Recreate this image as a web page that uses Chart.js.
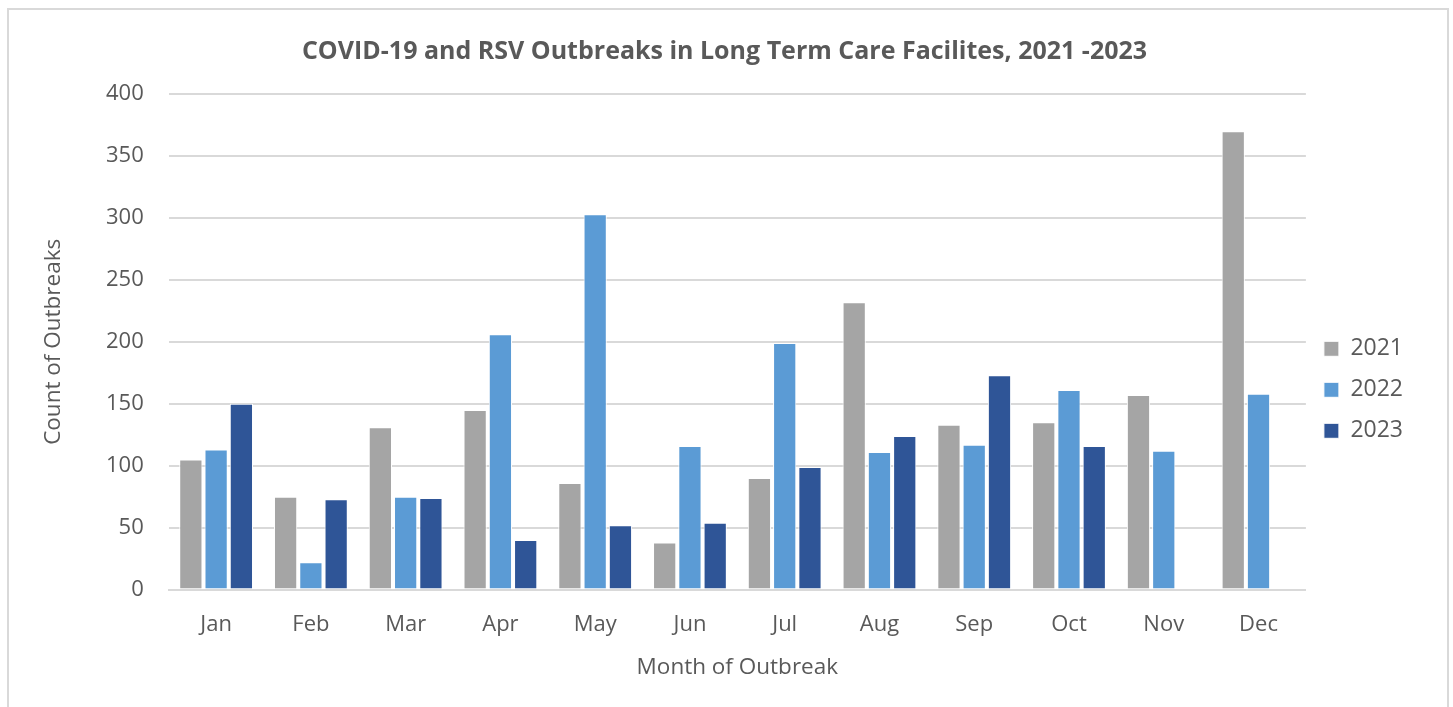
<!DOCTYPE html>
<html>
<head>
    <title>COVID-19 and RSV Outbreaks</title>
    <style>
        body{
            margin:0;
            background:white;
        }
        .frame{
            position:absolute;
            left:7px;
            top:8px;
            width:1438px;
            height:720px;
            border:2px solid #d9d9d9;
            border-bottom:none;
        }
        .wrap{
            position:absolute;
            left:0;
            top:0;
            width:1453px;
            height:707px;
        }
    </style>
</head>
<body>
<div class="frame"></div>
<div class="wrap"><canvas id="outbreaks"></canvas></div>

<script src="https://cdn.jsdelivr.net/npm/chart.js@4.4.0/dist/chart.umd.min.js"></script>
<script>
    const months = ["Jan", "Feb", "Mar", "Apr", "May", "Jun", "Jul", "Aug", "Sep", "Oct", "Nov", "Dec"];
    const y2021 = [105, 75, 131, 145, 86, 38, 90, 232, 133, 135, 157, 370];
    const y2022 = [113, 22, 75, 206, 303, 116, 199, 111, 117, 161, 112, 158];
    const y2023 = [150, 73, 74, 40, 52, 54, 99, 124, 173, 116, null, null];

    const grey = "#595959";
    Chart.defaults.font.family = "'Open Sans', sans-serif";
    Chart.defaults.color = grey;

    new Chart("outbreaks", {
        type: "bar",
        data: {
            labels: months,
            datasets: [
                {label: "2021", data: y2021, backgroundColor: "#a5a5a5"},
                {label: "2022", data: y2022, backgroundColor: "#5b9bd5"},
                {label: "2023", data: y2023, backgroundColor: "#2f5597"}
            ]
        },
        options: {
            responsive: true,
            maintainAspectRatio: false,
            animation: false,
            layout: {padding: {left: 36, right: 40, top: 37, bottom: 22}},
            datasets: {
                bar: {
                    categoryPercentage: 0.8,
                    barPercentage: 0.92,
                    borderColor: "white",
                    borderWidth: 1
                }
            },
            plugins: {
                title: {
                    display: true,
                    text: "COVID-19 and RSV Outbreaks in Long Term Care Facilites, 2021 -2023",
                    font: {size: 25, weight: "bold"},
                    color: grey,
                    padding: {top: 0, bottom: 27}
                },
                legend: {
                    position: "right",
                    // empty title only pushes the items down a bit
                    title: {display: true, text: " ", font: {size: 23}, padding: {top: 30, bottom: 0}},
                    labels: {
                        boxWidth: 15,
                        boxHeight: 15,
                        padding: 18,
                        font: {size: 23},
                        color: grey
                    }
                },
                tooltip: {enabled: false}
            },
            scales: {
                x: {
                    grid: {display: false},
                    border: {color: "#d9d9d9", width: 2},
                    ticks: {font: {size: 22}, color: grey, padding: 14},
                    title: {display: true, text: "Month of Outbreak", font: {size: 22.5}, color: grey, padding: {top: 2}}
                },
                y: {
                    min: 0,
                    max: 400,
                    ticks: {stepSize: 50, font: {size: 22}, color: grey, padding: 25},
                    grid: {color: "#d9d9d9", lineWidth: 2, drawTicks: false},
                    border: {display: false},
                    title: {display: true, text: "Count of Outbreaks", font: {size: 22.5}, color: grey, padding: {bottom: 14}}
                }
            }
        }
    });
</script>
</body>
</html>
